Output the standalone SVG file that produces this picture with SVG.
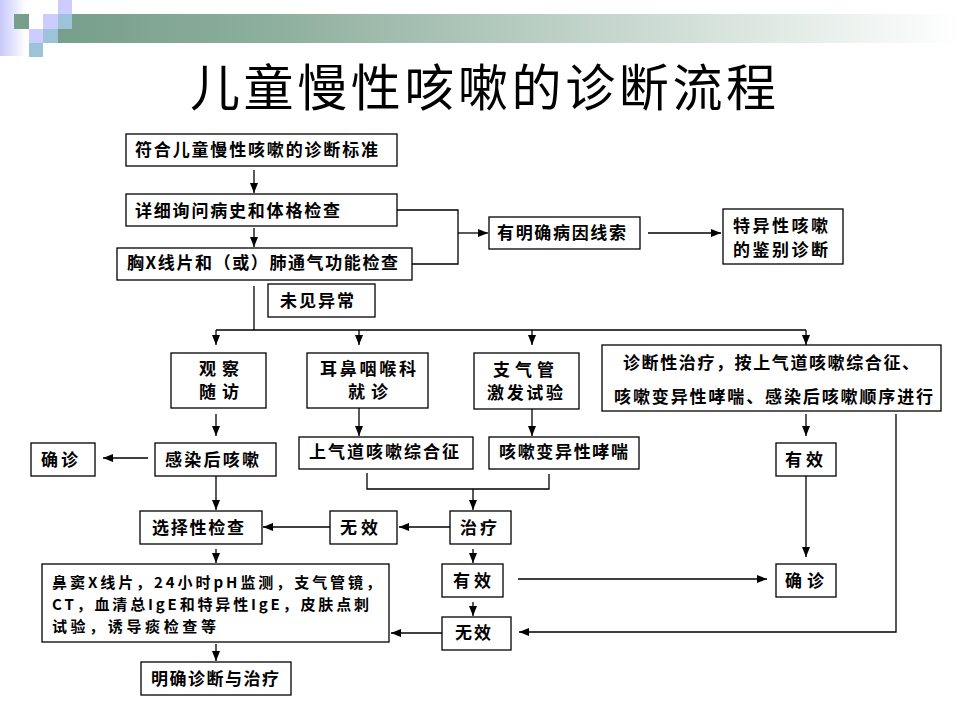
<svg xmlns="http://www.w3.org/2000/svg" width="960" height="720" viewBox="0 0 960 720">
<defs>
<linearGradient id="bar" x1="58" y1="0" x2="960" y2="0" gradientUnits="userSpaceOnUse">
<stop offset="0" stop-color="#779f8b"/>
<stop offset="0.25" stop-color="#8fb09f"/>
<stop offset="1" stop-color="#ffffff"/>
</linearGradient>
<linearGradient id="strip" x1="0" y1="0" x2="26" y2="0" gradientUnits="userSpaceOnUse">
<stop offset="0" stop-color="#c8c8fa"/>
<stop offset="1" stop-color="#ffffff"/>
</linearGradient>
<marker id="ah" markerUnits="userSpaceOnUse" markerWidth="10" markerHeight="8" refX="10" refY="4" orient="auto">
<path d="M0,0 L10,4 L0,8 z" fill="#000"/>
</marker>
<style>
.box{fill:#fff;stroke:#000;stroke-width:1.3}
.t{font-family:"Noto Sans CJK SC","Noto Sans CJK JP",sans-serif;font-size:17px;font-weight:bold;fill:#000}
.s{font-size:15px}
.c{stroke:#000;stroke-width:1.3;fill:none}
.a{marker-end:url(#ah)}
</style>
</defs>
<rect width="960" height="720" fill="#fff"/>
<g id="decor">
<rect x="0" y="0" width="26" height="56" fill="url(#strip)"/>
<rect x="58" y="14" width="902" height="29" fill="url(#bar)"/>
<rect x="14" y="14" width="15" height="15" fill="#779f8b"/>
<rect x="58" y="0" width="14" height="14" fill="#ccccff"/>
<rect x="43" y="14" width="15" height="15" fill="#ccccff"/>
<rect x="58" y="14" width="14" height="15" fill="#9dc3d8"/>
<rect x="29" y="29" width="14" height="14" fill="#ccccff"/>
<rect x="43" y="29" width="15" height="14" fill="#9dc3d8"/>
<rect x="29" y="43" width="14" height="14" fill="#9dc3d8"/>
</g>
<text id="title" x="190" y="106" textLength="586" lengthAdjust="spacing" style="font-family:'Noto Sans CJK SC',sans-serif;font-size:50px;fill:#000">儿童慢性咳嗽的诊断流程</text>

<g id="connectors">
<path class="c a" d="M254,170 V193"/>
<path class="c a" d="M254,228 V247"/>
<path class="c" d="M397,210 H458 V264 H412"/>
<path class="c a" d="M458,233 H488"/>
<path class="c a" d="M648,233 H721"/>
<path class="c" d="M254,286 V330"/>
<path class="c" d="M216,330 H806"/>
<path class="c a" d="M216,330 V345"/>
<path class="c a" d="M359,330 V345"/>
<path class="c a" d="M532,330 V345"/>
<path class="c a" d="M806,330 V345"/>
<path class="c a" d="M216,414 V436"/>
<path class="c a" d="M359,408 V436"/>
<path class="c a" d="M532,409 V436"/>
<path class="c a" d="M806,414 V436"/>
<path class="c a" d="M148,458 H103"/>
<path class="c a" d="M216,476 V510"/>
<path class="c" d="M367,473 V489 H549 V474"/>
<path class="c a" d="M473,489 V510"/>
<path class="c a" d="M450,527 H399"/>
<path class="c a" d="M330,527 H263"/>
<path class="c a" d="M806,476 V557"/>
<path class="c a" d="M216,549 V563"/>
<path class="c a" d="M473,549 V563"/>
<path class="c a" d="M473,602 V616"/>
<path class="c a" d="M518,579 H767"/>
<path class="c a" d="M896,414 V632 H519"/>
<path class="c a" d="M442,633 H391"/>
<path class="c a" d="M216,644 V661"/>
</g>

<g id="n1"><rect class="box" x="126" y="134" width="271" height="32"/><text class="t" x="135" y="156" textLength="243" lengthAdjust="spacing">符合儿童慢性咳嗽的诊断标准</text></g>
<g id="n2"><rect class="box" x="126" y="194" width="271" height="32"/><text class="t" x="135" y="217" textLength="205" lengthAdjust="spacing">详细询问病史和体格检查</text></g>
<g id="n3"><rect class="box" x="117" y="248" width="295" height="32"/><text class="t" x="127" y="269" textLength="271" lengthAdjust="spacing">胸X线片和（或）肺通气功能检查</text></g>
<g id="n4"><rect class="box" x="268" y="284" width="107" height="33"/><text class="t" x="280" y="307" textLength="74" lengthAdjust="spacing">未见异常</text></g>
<g id="n5"><rect class="box" x="489" y="217" width="151" height="32"/><text class="t" x="497" y="239" textLength="129" lengthAdjust="spacing">有明确病因线索</text></g>
<g id="n6"><rect class="box" x="723" y="209" width="120" height="55"/><text class="t" x="733" y="232" textLength="95" lengthAdjust="spacing">特异性咳嗽</text><text class="t" x="733" y="256" textLength="95" lengthAdjust="spacing">的鉴别诊断</text></g>
<g id="n7"><rect class="box" x="171" y="353" width="95" height="55"/><text class="t" x="199" y="375" textLength="40" lengthAdjust="spacing">观察</text><text class="t" x="199" y="398" textLength="40" lengthAdjust="spacing">随访</text></g>
<g id="n8"><rect class="box" x="307" y="353" width="121" height="55"/><text class="t" x="320" y="375" textLength="96" lengthAdjust="spacing">耳鼻咽喉科</text><text class="t" x="348" y="398" textLength="40" lengthAdjust="spacing">就诊</text></g>
<g id="n9"><rect class="box" x="474" y="353" width="105" height="56"/><text class="t" x="493" y="376" textLength="61" lengthAdjust="spacing">支气管</text><text class="t" x="487" y="399" textLength="76" lengthAdjust="spacing">激发试验</text></g>
<g id="n10"><rect class="box" x="602" y="345" width="339" height="66"/><text class="t" x="623" y="369" textLength="296" lengthAdjust="spacing">诊断性治疗，按上气道咳嗽综合征、</text><text class="t" x="614" y="403" textLength="319" lengthAdjust="spacing">咳嗽变异性哮喘、感染后咳嗽顺序进行</text></g>
<g id="n11"><rect class="box" x="31" y="443" width="64" height="33"/><text class="t" x="41" y="466" textLength="37" lengthAdjust="spacing">确诊</text></g>
<g id="n12"><rect class="box" x="155" y="443" width="121" height="33"/><text class="t" x="165" y="466" textLength="94" lengthAdjust="spacing">感染后咳嗽</text></g>
<g id="n13"><rect class="box" x="299" y="437" width="174" height="32"/><text class="t" x="309" y="458" textLength="150" lengthAdjust="spacing">上气道咳嗽综合征</text></g>
<g id="n14"><rect class="box" x="489" y="437" width="150" height="32"/><text class="t" x="499" y="458" textLength="129" lengthAdjust="spacing">咳嗽变异性哮喘</text></g>
<g id="n15"><rect class="box" x="776" y="443" width="60" height="33"/><text class="t" x="785" y="466" textLength="38" lengthAdjust="spacing">有效</text></g>
<g id="n16"><rect class="box" x="140" y="511" width="122" height="33"/><text class="t" x="152" y="534" textLength="92" lengthAdjust="spacing">选择性检查</text></g>
<g id="n17"><rect class="box" x="330" y="511" width="67" height="33"/><text class="t" x="340" y="534" textLength="38" lengthAdjust="spacing">无效</text></g>
<g id="n18"><rect class="box" x="450" y="511" width="61" height="33"/><text class="t" x="460" y="534" textLength="37" lengthAdjust="spacing">治疗</text></g>
<g id="n19"><rect class="box" x="42" y="564" width="347" height="78"/><text class="t s" x="52" y="588" textLength="329" lengthAdjust="spacing">鼻窦X线片，24小时pH监测，支气管镜，</text><text class="t s" x="52" y="610" textLength="317" lengthAdjust="spacing">CT，血清总IgE和特异性IgE，皮肤点刺</text><text class="t s" x="52" y="632" textLength="164" lengthAdjust="spacing">试验，诱导痰检查等</text></g>
<g id="n20"><rect class="box" x="442" y="564" width="61" height="33"/><text class="t" x="453" y="587" textLength="38" lengthAdjust="spacing">有效</text></g>
<g id="n21"><rect class="box" x="776" y="564" width="60" height="33"/><text class="t" x="785" y="587" textLength="39" lengthAdjust="spacing">确诊</text></g>
<g id="n22"><rect class="box" x="442" y="617" width="69" height="33"/><text class="t" x="455" y="639" textLength="36" lengthAdjust="spacing">无效</text></g>
<g id="n23"><rect class="box" x="141" y="662" width="150" height="33"/><text class="t" x="151" y="685" textLength="128" lengthAdjust="spacing">明确诊断与治疗</text></g>
</svg>
